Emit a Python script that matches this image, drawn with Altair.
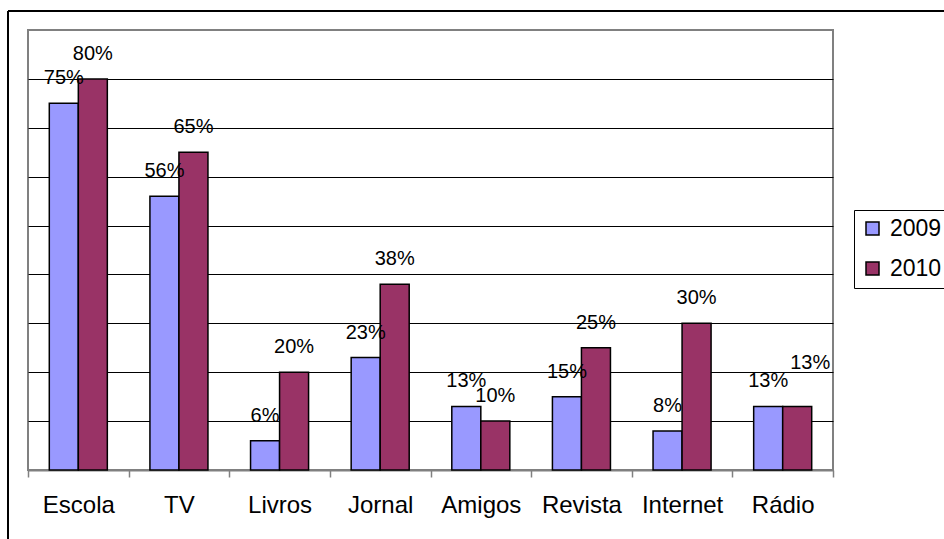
import altair as alt
import pandas as pd

categories = ["Escola", "TV", "Livros", "Jornal", "Amigos", "Revista", "Internet", "Rádio"]
years = ["2009", "2010"]
values_2009 = [75, 56, 6, 23, 13, 15, 8, 13]
values_2010 = [80, 65, 20, 38, 10, 25, 30, 13]
colors = ["#9999FF", "#993366"]
grid_values = [10, 20, 30, 40, 50, 60, 70, 80]

rows = []
for cat, a, b in zip(categories, values_2009, values_2010):
    rows.append({"categoria": cat, "ano": "2009", "valor": a})
    rows.append({"categoria": cat, "ano": "2010", "valor": b})
df = pd.DataFrame(rows)
df["rotulo"] = df["valor"].astype(str) + "%"

FONT = "Liberation Sans"

x_enc = alt.X(
    "categoria:N",
    sort=categories,
    scale=alt.Scale(paddingInner=0, paddingOuter=0),
    axis=alt.Axis(
        title=None,
        labelAngle=0,
        labelFontSize=24,
        labelFont=FONT,
        labelColor="black",
        labelPadding=16,
        tickBand="extent",
        tickSize=7,
        tickColor="#808080",
        tickWidth=1.5,
        domainColor="#808080",
        domainWidth=2,
        grid=False,
    ),
)
xoff_enc = alt.XOffset("ano:N", sort=years, scale=alt.Scale(paddingInner=0, paddingOuter=0.734))
y_enc = alt.Y(
    "valor:Q",
    scale=alt.Scale(domain=[0, 90], nice=False),
    axis=alt.Axis(
        title=None,
        labels=False,
        ticks=False,
        domain=False,
        grid=True,
        values=grid_values,
        gridColor="black",
        gridWidth=1,
    ),
)

base = alt.Chart(df)

bars = base.mark_bar(stroke="black", strokeWidth=1.5).encode(
    x=x_enc,
    xOffset=xoff_enc,
    y=y_enc,
    color=alt.Color(
        "ano:N",
        sort=years,
        scale=alt.Scale(domain=years, range=colors),
        legend=alt.Legend(
            title=None,
            orient="none",
            legendX=826,
            legendY=180,
            symbolType="square",
            symbolSize=169,
            symbolStrokeColor="black",
            symbolStrokeWidth=1.5,
            labelFontSize=23,
            labelFont=FONT,
            labelColor="black",
            labelOffset=6,
            rowPadding=16,
            padding=7,
            strokeColor="black",
            fillColor="white",
        ),
    ),
)

# labels that collide with a neighbour get nudged up and to the right
is_nudged = "datum.categoria == 'Rádio' && datum.ano == '2010'"

labels = base.mark_text(fontSize=20, font=FONT, color="black", dy=-25, baseline="middle").encode(
    x=alt.X("categoria:N", sort=categories),
    xOffset=alt.XOffset("ano:N", sort=years),
    y="valor:Q",
    text="rotulo:N",
).transform_filter("!(" + is_nudged + ")")

labels_nudged = base.mark_text(fontSize=20, font=FONT, color="black", dx=13, dy=-43, baseline="middle").encode(
    x=alt.X("categoria:N", sort=categories),
    xOffset=alt.XOffset("ano:N", sort=years),
    y="valor:Q",
    text="rotulo:N",
).transform_filter(is_nudged)

frame_df = pd.DataFrame({"k": [0]})
frame_left = alt.Chart(frame_df).mark_rule(color="black", strokeWidth=2).encode(
    x=alt.value(-20), y=alt.value(-19), y2=alt.value(520)
)
frame_top = alt.Chart(frame_df).mark_rule(color="black", strokeWidth=2).encode(
    x=alt.value(-20), x2=alt.value(930), y=alt.value(-19)
)

chart = (
    alt.layer(bars, labels, labels_nudged, frame_left, frame_top)
    .properties(
        width=805,
        height=440,
        autosize=alt.AutoSizeParams(type="none"),
        padding={"left": 28, "top": 30, "right": 111, "bottom": 69},
        background="white",
    )
    .configure_view(stroke="#808080", strokeWidth=2)
)

chart.save("out.html", embed_options={"renderer": "svg", "actions": False})
